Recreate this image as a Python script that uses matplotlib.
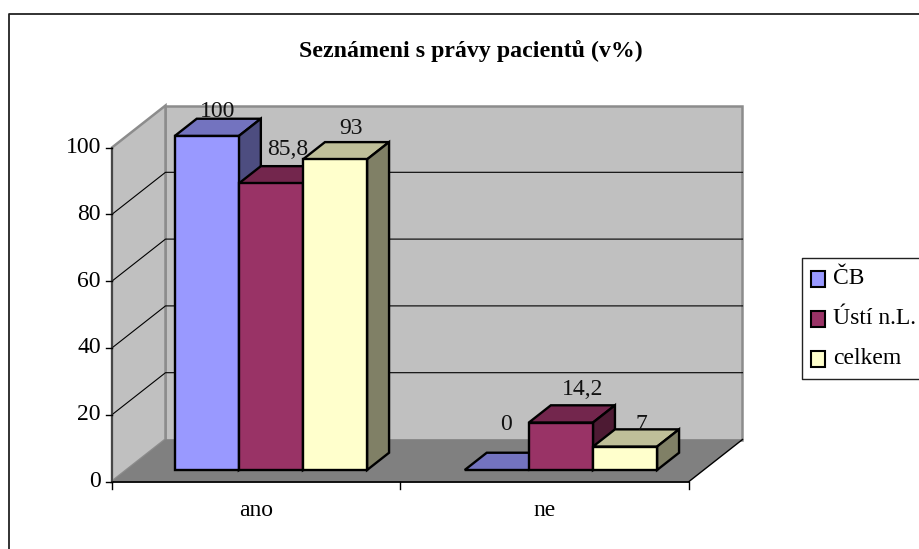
import matplotlib
matplotlib.use("Agg")
import matplotlib.pyplot as plt
from matplotlib.patches import Polygon, Rectangle

plt.rcParams['font.family'] = ['Liberation Serif', 'DejaVu Serif']

title = "Seznámeni s právy pacientů (v%)"
categories = ["ano", "ne"]
series_names = ["ČB", "Ústí n.L.", "celkem"]
cb = [100, 0]
usti = [85.8, 14.2]
celkem = [93, 7]
labels_cb = ["100", "0"]
labels_usti = ["85,8", "14,2"]
labels_celkem = ["93", "7"]
yticks = [0, 20, 40, 60, 80, 100]

fronts = ["#9999FF", "#993366", "#FFFFCC"]
tops = ["#7373BF", "#73264D", "#BFBF99"]
sides = ["#4D4D80", "#4D1A33", "#808066"]

X0, Y0 = 112.0, 481.5
UX, UY = 288.5, 3.34
DX, DY = 53.5, 42.0
FS = 17


def P(c, v, d=0.0):
    """Project category position c, value v, depth d to picture coordinates."""
    return (X0 + UX * c + DX * d, Y0 - UY * v - DY * d)


fig = plt.figure(figsize=(9.2, 5.49), dpi=100)
ax = fig.add_axes([0, 0, 1, 1])
ax.set_xlim(0, 920)
ax.set_ylim(549, 0)
ax.axis("off")

# chart frame (only its top and left edges fall inside the picture)
ax.plot([9.5, 9.5, 920], [549, 13.5, 13.5], color="#222222", lw=1.3, zorder=0)

nc = len(categories)
vmax = yticks[-1]
# walls and floor
wall_ec = "#8c8c8c"
ax.add_patch(Polygon([P(0, 0, 1), P(nc, 0, 1), P(nc, vmax, 1), P(0, vmax, 1)], fc="#C0C0C0", ec=wall_ec, lw=1.8, zorder=1))
ax.add_patch(Polygon([P(0, 0, 0), P(0, 0, 1), P(0, vmax, 1), P(0, vmax, 0)], fc="#C0C0C0", ec=wall_ec, lw=1.8, zorder=1))
ax.add_patch(Polygon([P(0, 0, 0), P(nc, 0, 0), P(nc, 0, 1), P(0, 0, 1)], fc="#808080", ec="none", zorder=1))

# gridlines
for t in yticks[1:-1]:
    xs, ys = zip(P(0, t, 0), P(0, t, 1), P(nc, t, 1))
    ax.plot(xs, ys, color="black", lw=0.8, zorder=2)

# axes
ax.plot(*zip(P(0, 0), P(nc, 0)), color="black", lw=1.3, zorder=3)
ax.plot(*zip(P(0, 0), P(0, vmax)), color="#333333", lw=1.1, zorder=3)
ax.plot(*zip(P(nc, 0, 0), P(nc, 0, 1)), color="black", lw=1.0, zorder=3)
for t in yticks:
    x, y = P(0, t)
    ax.plot([x - 6, x], [y, y], color="black", lw=1.0, zorder=3)
    ax.text(x - 11, y, str(t), ha="right", va="center", fontsize=FS, color="black", zorder=30)
for i in range(nc + 1):
    x, y = P(i, 0)
    ax.plot([x, x], [y, y + 7], color="black", lw=1.0, zorder=3)
for i, c in enumerate(categories):
    x, y = P(i + 0.5, 0)
    ax.text(x, y + 29, c, ha="center", va="center", fontsize=FS, zorder=30)

# bars
values = [cb, usti, celkem]
texts = [labels_cb, labels_usti, labels_celkem]
gap = 1 / 6
bw = (1 - 2 * gap) / len(series_names)
bar_step = 1.0052
d0, d1 = 0.274, 0.685
# label placement relative to the back-top centre of each bar, per [series][category]
nudge = [[(-11, -7), (-13, -28)], [(-5, -17), (0, -16)], [(-6, -14), (-6, -5)]]
z = 6
for ci in range(nc):
    for si in range(len(series_names)):
        v = values[si][ci]
        l = ci * bar_step + gap + si * bw
        r = l + bw
        st = dict(ec="black", lw=1.7, joinstyle="miter", zorder=z)
        ax.add_patch(Polygon([P(l, v, d0), P(r, v, d0), P(r, v, d1), P(l, v, d1)], fc=tops[si], **st))
        if v > 0:
            ax.add_patch(Polygon([P(r, 0, d0), P(r, 0, d1), P(r, v, d1), P(r, v, d0)], fc=sides[si], **st))
            ax.add_patch(Polygon([P(l, 0, d0), P(r, 0, d0), P(r, v, d0), P(l, v, d0)], fc=fronts[si], **st))
        z += 1
        lx, ly = P((l + r) / 2, v, d1)
        dx, dy = nudge[si][ci]
        ax.text(lx + dx, ly + dy, texts[si][ci], ha="center", va="center", fontsize=FS, color="#111111", zorder=30)

# title
ax.text(470.5, 51.5, title, ha="center", va="center", fontsize=17.2, fontweight="bold", zorder=30)

# legend
ax.plot([920, 802.5, 802.5, 920], [257.5, 257.5, 378.5, 378.5], color="#222222", lw=1.0, zorder=5)
for i, name in enumerate(series_names):
    y = 278.5 + i * 40
    ax.add_patch(Rectangle((811.5, y - 8), 14, 16, fc=fronts[i], ec="black", lw=1.5, zorder=6))
    ax.text(833, y + 0.5, name, ha="left", va="center", fontsize=FS, zorder=6)

fig.savefig("out.png", dpi=100)
